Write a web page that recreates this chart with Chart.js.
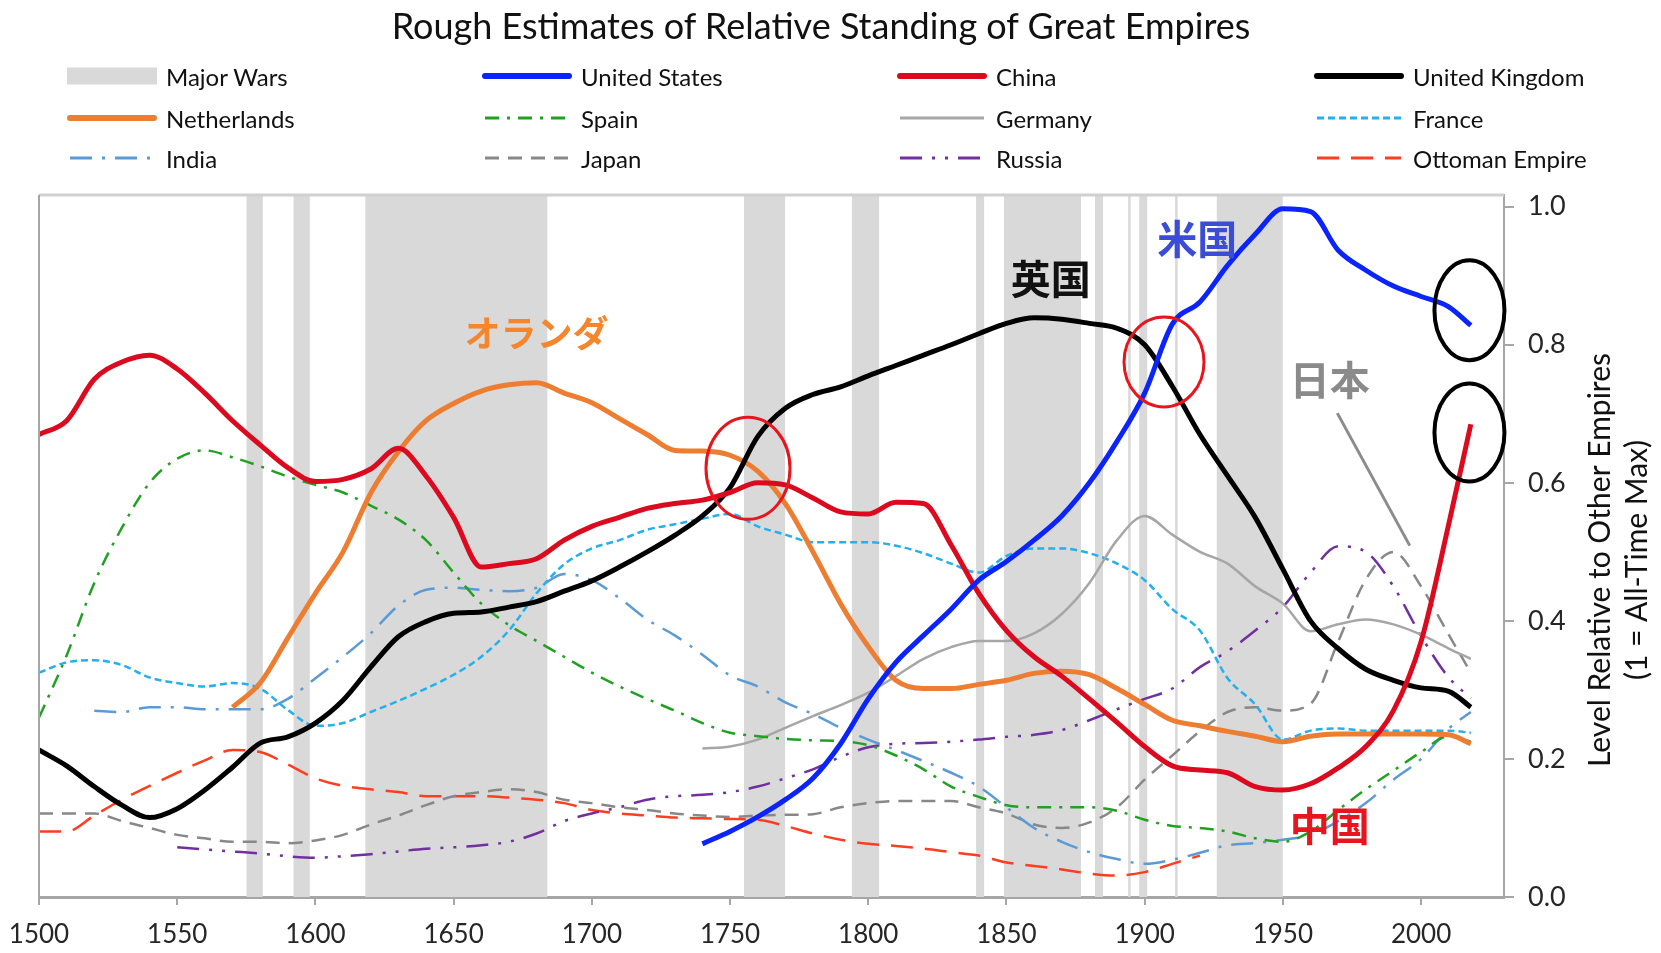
<!DOCTYPE html>
<html>
<head>
<meta charset="utf-8">
<script src="https://cdn.jsdelivr.net/npm/chart.js@4.4.1/dist/chart.umd.min.js"></script>
<style>
  html, body { margin: 0; padding: 0; background: #fff; }
  #wrap { position: relative; width: 1661px; height: 953px; font-family: Lato, "Noto Sans", sans-serif; }
  #chart { position: absolute; left: 0; top: 0; }
  #title { position: absolute; top: 3px; left: 0; width: 1642px; text-align: center; font-size: 36px; color: #111; }
  .item { position: absolute; display: flex; align-items: center; height: 30px; font-size: 24px; color: #111; white-space: nowrap; }
  .item svg { margin-right: 9px; }
</style>
</head>
<body>
<div id="wrap">
  <canvas id="chart" width="1661" height="953"></canvas>
  <div id="title">Rough Estimates of Relative Standing of Great Empires</div>
  <div id="legend"></div>
</div>
<script>
// years shared by every series
const years = [1500, 1510, 1520, 1530, 1540, 1550, 1560, 1570, 1580, 1590,
  1600, 1610, 1620, 1630, 1640, 1650, 1660, 1670, 1680, 1690,
  1700, 1710, 1720, 1730, 1740, 1750, 1760, 1770, 1780, 1790,
  1800, 1810, 1820, 1830, 1840, 1850, 1860, 1870, 1880, 1890,
  1900, 1910, 1920, 1930, 1940, 1950, 1960, 1970, 1980, 1990,
  2000, 2010, 2018];

const xTicks = [1500, 1550, 1600, 1650, 1700, 1750, 1800, 1850, 1900, 1950, 2000];
const yTicks = [0, 0.2, 0.4, 0.6, 0.8, 1.0];

// major wars, [start, end]
const wars = [[1575, 1581], [1592, 1598], [1618, 1684], [1755, 1770], [1794, 1804],
  [1839, 1842], [1849, 1877], [1882, 1885], [1894, 1895], [1898, 1901],
  [1911, 1912], [1926, 1950]];

const unitedStates = [null, null, null, null, null, null, null, null, null, null,
  null, null, null, null, null, null, null, null, null, null,
  null, null, null, null, 0.077, 0.095, 0.116, 0.141, 0.172, 0.222,
  0.287, 0.34, 0.379, 0.417, 0.459, 0.486, 0.517, 0.552, 0.6, 0.66,
  0.73, 0.83, 0.862, 0.915, 0.96, 0.997, 0.993, 0.937, 0.908, 0.885,
  0.87, 0.855, 0.828];

const china = [0.67, 0.69, 0.75, 0.775, 0.785, 0.765, 0.73, 0.69, 0.655, 0.622,
  0.602, 0.605, 0.62, 0.65, 0.61, 0.55, 0.478, 0.483, 0.49, 0.517,
  0.537, 0.55, 0.563, 0.57, 0.575, 0.586, 0.6, 0.597, 0.578, 0.558,
  0.555, 0.572, 0.57, 0.51, 0.44, 0.386, 0.348, 0.32, 0.287, 0.253,
  0.218, 0.19, 0.184, 0.18, 0.16, 0.155, 0.164, 0.187, 0.218, 0.27,
  0.37, 0.54, 0.685];

const unitedKingdom = [0.213, 0.19, 0.16, 0.133, 0.115, 0.128, 0.155, 0.188, 0.223, 0.232,
  0.252, 0.285, 0.333, 0.377, 0.399, 0.411, 0.413, 0.42, 0.428, 0.443,
  0.458, 0.478, 0.5, 0.524, 0.552, 0.593, 0.667, 0.708, 0.728, 0.739,
  0.755, 0.77, 0.785, 0.8, 0.816, 0.831, 0.839, 0.837, 0.831, 0.824,
  0.8, 0.74, 0.67, 0.61, 0.55, 0.475, 0.4, 0.36, 0.33, 0.314,
  0.303, 0.298, 0.275];

const netherlands = [null, null, null, null, null, null, null, 0.275, 0.31, 0.375,
  0.44, 0.5, 0.585, 0.645, 0.69, 0.715, 0.733, 0.742, 0.745, 0.73,
  0.716, 0.693, 0.67, 0.647, 0.646, 0.64, 0.617, 0.57, 0.5, 0.425,
  0.363, 0.314, 0.302, 0.302, 0.308, 0.314, 0.324, 0.327, 0.322, 0.302,
  0.279, 0.256, 0.248, 0.24, 0.233, 0.225, 0.233, 0.236, 0.236, 0.236,
  0.236, 0.235, 0.222];

const spain = [0.26, 0.35, 0.455, 0.535, 0.6, 0.635, 0.647, 0.637, 0.624, 0.609,
  0.597, 0.586, 0.567, 0.547, 0.517, 0.47, 0.425, 0.394, 0.371, 0.348,
  0.325, 0.305, 0.287, 0.27, 0.252, 0.238, 0.233, 0.229, 0.227, 0.226,
  0.22, 0.205, 0.185, 0.16, 0.145, 0.133, 0.13, 0.13, 0.13, 0.125,
  0.112, 0.103, 0.1, 0.095, 0.085, 0.08, 0.095, 0.126, 0.156, 0.183,
  0.21, 0.233, 0.225];

const germany = [null, null, null, null, null, null, null, null, null, null,
  null, null, null, null, null, null, null, null, null, null,
  null, null, null, null, 0.215, 0.218, 0.228, 0.245, 0.262, 0.278,
  0.296, 0.32, 0.345, 0.362, 0.371, 0.371, 0.382, 0.41, 0.455, 0.517,
  0.552, 0.525, 0.5, 0.483, 0.45, 0.425, 0.385, 0.395, 0.402, 0.395,
  0.38, 0.36, 0.345];

const france = [0.325, 0.34, 0.343, 0.336, 0.318, 0.31, 0.305, 0.31, 0.302, 0.271,
  0.248, 0.252, 0.268, 0.284, 0.302, 0.322, 0.348, 0.386, 0.44, 0.482,
  0.505, 0.517, 0.532, 0.54, 0.548, 0.555, 0.537, 0.525, 0.514, 0.514,
  0.514, 0.509, 0.498, 0.483, 0.47, 0.494, 0.505, 0.505, 0.498, 0.483,
  0.459, 0.417, 0.386, 0.317, 0.279, 0.228, 0.241, 0.244, 0.241, 0.241,
  0.241, 0.241, 0.238];

const india = [null, null, 0.27, 0.268, 0.275, 0.275, 0.272, 0.272, 0.272, 0.287,
  0.317, 0.348, 0.382, 0.422, 0.445, 0.448, 0.445, 0.443, 0.448, 0.468,
  0.459, 0.433, 0.402, 0.379, 0.351, 0.321, 0.305, 0.282, 0.265, 0.245,
  0.228, 0.213, 0.197, 0.18, 0.16, 0.13, 0.1, 0.08, 0.065, 0.055,
  0.048, 0.054, 0.064, 0.075, 0.078, 0.083, 0.09, 0.11, 0.136, 0.17,
  0.2, 0.244, 0.268];

const japan = [0.121, 0.121, 0.121, 0.11, 0.1, 0.09, 0.085, 0.08, 0.08, 0.078,
  0.082, 0.09, 0.105, 0.118, 0.133, 0.146, 0.152, 0.156, 0.152, 0.141,
  0.136, 0.13, 0.126, 0.121, 0.118, 0.116, 0.118, 0.119, 0.12, 0.13,
  0.136, 0.139, 0.139, 0.139, 0.13, 0.121, 0.105, 0.1, 0.108, 0.13,
  0.17, 0.205, 0.24, 0.268, 0.275, 0.27, 0.28, 0.37, 0.46, 0.5,
  0.45, 0.38, 0.325];

const russia = [null, null, null, null, null, 0.072, 0.069, 0.066, 0.063, 0.059,
  0.057, 0.059, 0.062, 0.066, 0.07, 0.072, 0.075, 0.08, 0.092, 0.11,
  0.121, 0.13, 0.141, 0.146, 0.148, 0.152, 0.16, 0.172, 0.185, 0.203,
  0.217, 0.222, 0.223, 0.225, 0.228, 0.232, 0.235, 0.242, 0.256, 0.272,
  0.287, 0.302, 0.333, 0.356, 0.386, 0.42, 0.47, 0.508, 0.5, 0.45,
  0.378, 0.318, 0.288];

const ottoman = [0.095, 0.095, 0.118, 0.141, 0.161, 0.18, 0.198, 0.213, 0.21, 0.192,
  0.172, 0.161, 0.156, 0.152, 0.146, 0.146, 0.146, 0.144, 0.141, 0.136,
  0.126, 0.121, 0.118, 0.115, 0.114, 0.113, 0.112, 0.103, 0.092, 0.083,
  0.077, 0.074, 0.07, 0.065, 0.06, 0.05, 0.045, 0.04, 0.034, 0.031,
  0.036, 0.048, 0.06, null, null, null, null, null, null, null,
  null, null, null];

// Japanese labels and marks, anchored in data units
const notes = [
  { text: 'オランダ', year: 1680, value: 0.816, color: '#f5862c', size: 36 },
  { text: '英国', year: 1866, value: 0.896, color: '#111111', size: 40 },
  { text: '米国', year: 1919, value: 0.954, color: '#3b4cd6', size: 40 },
  { text: '日本', year: 1967, value: 0.75, color: '#8a8a8a', size: 40 },
  { text: '中国', year: 1967, value: 0.103, color: '#e8141e', size: 40 }
];
const rings = [
  { year: 1756.5, value: 0.621, rx: 42, ry: 51, color: '#e8141e', width: 3 },
  { year: 1907, value: 0.775, rx: 40, ry: 45, color: '#e8141e', width: 3 },
  { year: 2017.5, value: 0.85, rx: 35, ry: 50, color: '#000', width: 4 },
  { year: 2017.5, value: 0.673, rx: 35, ry: 49, color: '#000', width: 4 }
];
const pointer = { from: [1969.7, 0.701], to: [1995.9, 0.509] };

const yMax = 1.017;

function toPoints(values) {
  return years.map((yr, i) => ({ x: yr, y: values[i] }));
}

const series = [
  { label: 'United States', data: unitedStates, color: '#0b24fb', width: 5, dash: [] },
  { label: 'China', data: china, color: '#dc0a1e', width: 5, dash: [] },
  { label: 'United Kingdom', data: unitedKingdom, color: '#000000', width: 5, dash: [] },
  { label: 'Netherlands', data: netherlands, color: '#ed7d31', width: 5, dash: [] },
  { label: 'Spain', data: spain, color: '#21a121', width: 2.5, dash: [14, 8, 3, 8] },
  { label: 'Germany', data: germany, color: '#a6a6a6', width: 2.5, dash: [] },
  { label: 'France', data: france, color: '#22b0ee', width: 2.5, dash: [7, 4] },
  { label: 'India', data: india, color: '#5b9bd5', width: 2.5, dash: [22, 10, 3, 10] },
  { label: 'Japan', data: japan, color: '#888888', width: 2.5, dash: [14, 9] },
  { label: 'Russia', data: russia, color: '#7030a0', width: 2.5, dash: [22, 10, 3, 10, 3, 10] },
  { label: 'Ottoman Empire', data: ottoman, color: '#ff3d1f', width: 2.5, dash: [22, 12] }
];

const datasets = [];
wars.forEach(w => {
  datasets.push({
    label: 'Major Wars',
    data: [{ x: w[0], y: yMax }, { x: w[1], y: yMax }],
    borderWidth: 0,
    backgroundColor: '#d9d9d9',
    fill: 'start',
    tension: 0,
    order: 100
  });
});
series.forEach(s => {
  datasets.push({
    label: s.label,
    data: toPoints(s.data),
    borderColor: s.color,
    borderWidth: s.width,
    borderDash: s.dash,
    fill: false,
    order: s.width > 3 ? 0 : 1
  });
});

// legend laid out in 4 columns like the original
const legendCols = [67, 482, 897, 1314];
const legendRows = [76, 118, 158];
const legendItems = [{ label: 'Major Wars', box: true }].concat(series);
const legendEl = document.getElementById('legend');
legendItems.forEach((it, i) => {
  const div = document.createElement('div');
  div.className = 'item';
  div.style.left = legendCols[i % 4] + 'px';
  div.style.top = (legendRows[Math.floor(i / 4)] - 15) + 'px';
  let sw;
  if (it.box) {
    sw = '<svg width="90" height="20"><rect x="0" y="1.5" width="90" height="17" fill="#d9d9d9"/></svg>';
  } else {
    const w = it.width > 3 ? 6 : 3;
    sw = '<svg width="90" height="20"><line x1="3" y1="10" x2="87" y2="10" stroke="' + it.color +
      '" stroke-width="' + w + '" stroke-linecap="' + (it.width > 3 ? 'round' : 'butt') +
      '" stroke-dasharray="' + (it.dash.length ? it.dash.join(' ') : 'none') + '"/></svg>';
  }
  div.innerHTML = sw + '<span>' + it.label + '</span>';
  legendEl.appendChild(div);
});

const framePlugin = {
  id: 'frame',
  afterDatasetsDraw(chart) {
    const { ctx, chartArea: a } = chart;
    ctx.save();
    ctx.strokeStyle = '#d0d0d0';
    ctx.lineWidth = 3;
    ctx.beginPath(); ctx.moveTo(a.left, a.top); ctx.lineTo(a.right, a.top); ctx.stroke();
    ctx.strokeStyle = '#a6a6a6';
    ctx.lineWidth = 2;
    ctx.beginPath(); ctx.moveTo(a.left, a.top); ctx.lineTo(a.left, a.bottom); ctx.stroke();
    ctx.restore();
  }
};

const notesPlugin = {
  id: 'notes',
  afterDatasetsDraw(chart) {
    const { ctx } = chart;
    const xs = chart.scales.x, ys = chart.scales.y;
    ctx.save();
    ctx.textAlign = 'center';
    ctx.textBaseline = 'middle';
    notes.forEach(n => {
      ctx.font = 'bold ' + n.size + 'px "Noto Sans CJK JP"';
      ctx.fillStyle = n.color;
      ctx.fillText(n.text, xs.getPixelForValue(n.year), ys.getPixelForValue(n.value));
    });
    rings.forEach(r => {
      ctx.strokeStyle = r.color;
      ctx.lineWidth = r.width;
      ctx.beginPath();
      ctx.ellipse(xs.getPixelForValue(r.year), ys.getPixelForValue(r.value), r.rx, r.ry, 0, 0, Math.PI * 2);
      ctx.stroke();
    });
    ctx.strokeStyle = '#8c8c8c';
    ctx.lineWidth = 3;
    ctx.beginPath();
    ctx.moveTo(xs.getPixelForValue(pointer.from[0]), ys.getPixelForValue(pointer.from[1]));
    ctx.lineTo(xs.getPixelForValue(pointer.to[0]), ys.getPixelForValue(pointer.to[1]));
    ctx.stroke();
    ctx.restore();
  }
};

const axisTitlePlugin = {
  id: 'axisTitle',
  afterDraw(chart) {
    const { ctx, chartArea: a } = chart;
    const cy = (a.top + a.bottom) / 2 + 14;
    ctx.save();
    ctx.fillStyle = '#111';
    ctx.font = '30px Lato';
    ctx.textAlign = 'center';
    ctx.textBaseline = 'middle';
    [['Level Relative to Other Empires', 1600], ['(1 = All-Time Max)', 1637]].forEach(t => {
      ctx.save();
      ctx.translate(t[1], cy);
      ctx.rotate(-Math.PI / 2);
      ctx.fillText(t[0], 0, 0);
      ctx.restore();
    });
    ctx.restore();
  }
};

Chart.defaults.font.family = 'Lato';

new Chart(document.getElementById('chart'), {
  type: 'line',
  data: { datasets },
  options: {
    responsive: false,
    animation: false,
    devicePixelRatio: 1,
    layout: { padding: { left: 39, top: 195, right: 0, bottom: 0 } },
    plugins: { legend: { display: false }, title: { display: false }, tooltip: { enabled: false } },
    elements: { point: { radius: 0 }, line: { cubicInterpolationMode: 'monotone' } },
    scales: {
      x: {
        type: 'linear', min: 1500, max: 2030,
        afterBuildTicks: s => { s.ticks = xTicks.map(v => ({ value: v })); },
        ticks: { callback: v => String(v), font: { size: 26 }, color: '#262626', padding: 14, maxRotation: 0, autoSkip: false },
        grid: { drawOnChartArea: false, tickLength: 8, color: '#a6a6a6', lineWidth: 2 },
        border: { color: '#a6a6a6', width: 3 },
        afterFit: s => { s.height = 56; s.paddingLeft = 0; s.paddingRight = 0; }
      },
      y: {
        type: 'linear', position: 'right', min: 0, max: yMax,
        afterBuildTicks: s => { s.ticks = yTicks.map(v => ({ value: v })); },
        ticks: { callback: v => v.toFixed(1), font: { size: 27 }, color: '#262626', padding: 14 },
        grid: { drawOnChartArea: false, tickLength: 10, color: '#a6a6a6', lineWidth: 2 },
        border: { color: '#a6a6a6', width: 2 },
        afterFit: s => { s.width = 157; }
      }
    }
  },
  plugins: [framePlugin, notesPlugin, axisTitlePlugin]
});
</script>
</body>
</html>
